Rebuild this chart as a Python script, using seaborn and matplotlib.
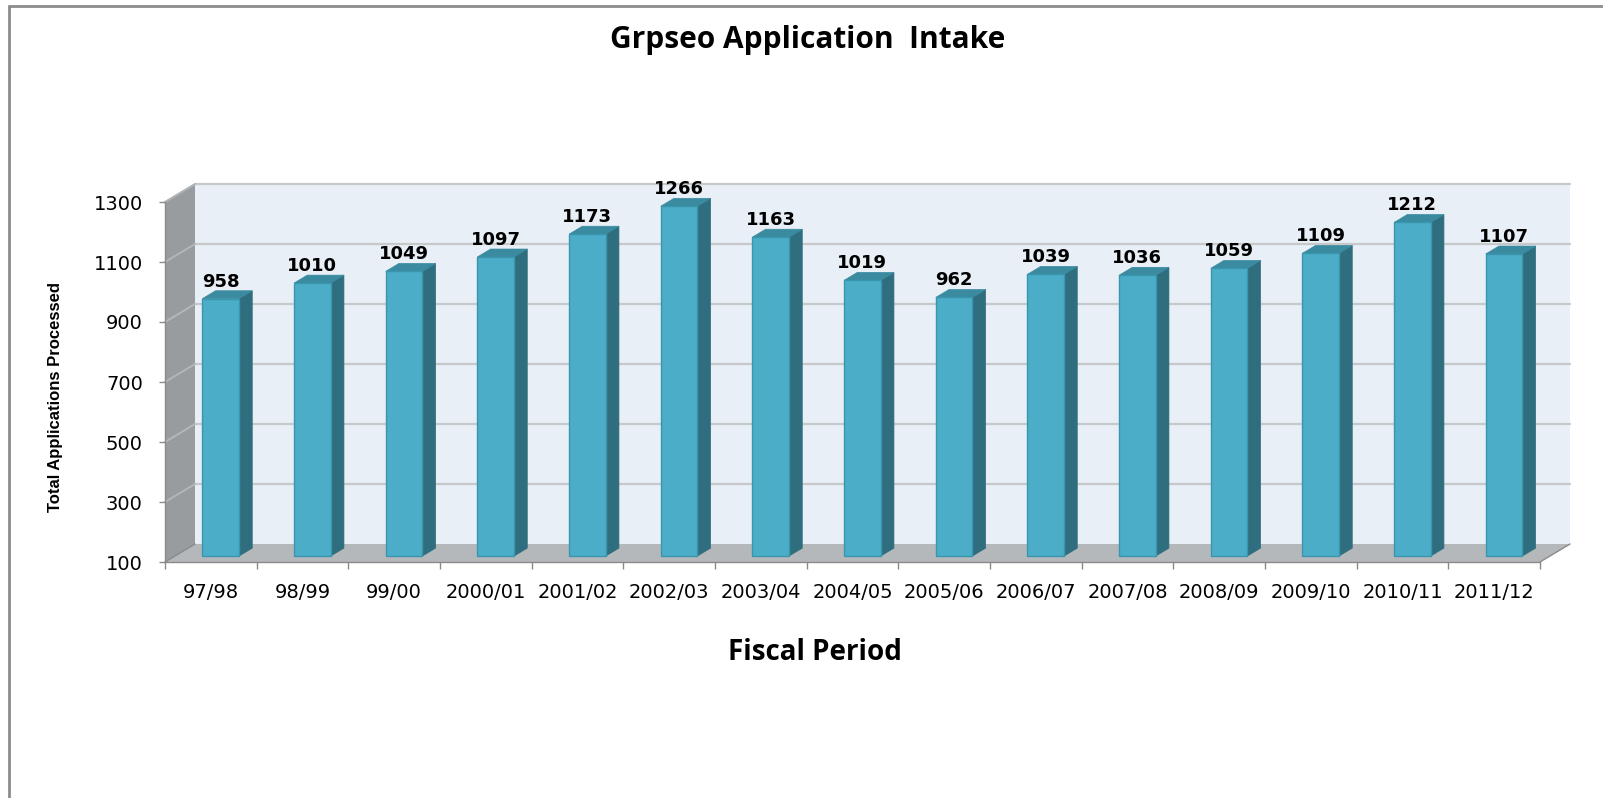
import numpy as np
import matplotlib
matplotlib.use("Agg")
import matplotlib.pyplot as plt
import matplotlib.transforms as mtransforms
from matplotlib.patches import Polygon
from matplotlib.lines import Line2D
import seaborn as sns

# ---- data ----
periods = ["97/98", "98/99", "99/00", "2000/01", "2001/02", "2002/03", "2003/04",
           "2004/05", "2005/06", "2006/07", "2007/08", "2008/09", "2009/10",
           "2010/11", "2011/12"]
applications = [958, 1010, 1049, 1097, 1173, 1266, 1163, 1019, 962, 1039,
                1036, 1059, 1109, 1212, 1107]
y_ticks = [100, 300, 500, 700, 900, 1100, 1300]

title = "Grpseo Application  Intake"
x_label = "Fiscal Period"
y_label = "Total Applications Processed"

# ---- style ----
sns.set_theme(style="white")
plt.rcParams["font.family"] = ["DejaVu Sans"]
plt.rcParams["text.color"] = "black"

W, H, DPI = 1603, 798, 100
fig = plt.figure(figsize=(W / DPI, H / DPI), dpi=DPI)
fig.patch.set_facecolor("white")

# front plane of the 3D box (pixels from top-left)
left_px, right_px, top_px, bot_px = 165, 1540, 202, 562
ax = fig.add_axes([left_px / W, 1 - bot_px / H, (right_px - left_px) / W, (bot_px - top_px) / H])

FRONT = "#4badc8"
SIDE = "#2f6e7e"
TOP = "#3a8aa0"
EDGE = "#3a95ae"

sns.barplot(x=periods, y=applications, ax=ax, width=0.4, color=FRONT,
            saturation=1, edgecolor=EDGE, linewidth=1.0, zorder=3)

ymin, ymax = y_ticks[0], y_ticks[-1]
ax.set_xlim(-0.5, len(periods) - 0.5)
ax.set_ylim(ymin, ymax)
ax.patch.set_visible(False)

DX, DY = 30, 18          # full depth offset (display px, y up)
F1, F2 = 0.33, 0.77      # bar front/back depth fractions


def P(xd, yd, f):
    px, py = ax.transData.transform((xd, yd))
    return (px + f * DX, py + f * DY)


ident = mtransforms.IdentityTransform()
xl, xr = ax.get_xlim()


def add_poly(pts, fc, z, ec="none", lw=0.0):
    poly = Polygon(pts, closed=True, transform=ident, facecolor=fc, edgecolor=ec,
                   lw=lw, zorder=z, clip_on=False)
    ax.add_artist(poly)
    return poly


def add_line(a, b, color, lw, z):
    ln = Line2D([a[0], b[0]], [a[1], b[1]], transform=ident, color=color, lw=lw,
                zorder=z, clip_on=False)
    ax.add_artist(ln)
    return ln


# back wall, left side wall, floor
add_poly([P(xl, ymin, 1), P(xr, ymin, 1), P(xr, ymax, 1), P(xl, ymax, 1)], "#e8eff6", 0.1)
add_poly([P(xl, ymin, 0), P(xl, ymax, 0), P(xl, ymax, 1), P(xl, ymin, 1)], "#989c9f", 0.2)
add_poly([P(xl, ymin, 0), P(xr, ymin, 0), P(xr, ymin, 1), P(xl, ymin, 1)], "#b5b8bb", 0.3)

# gridlines on back wall and side wall
for t in y_ticks[1:]:
    a, b = P(xl, t, 1), P(xr, t, 1)
    add_line(a, b, "#c6c8ca", 1.6, 0.4)
    c = P(xl, t, 0)
    add_line(c, a, "#b4b7b9", 1.4, 0.4)
# edge lines of floor
for xx in (xl, xr):
    add_line(P(xx, ymin, 0), P(xx, ymin, 1), "#8a8a8a", 1.0, 0.5)
add_line(P(xl, ymax, 0), P(xl, ymax, 1), "#b0b3b5", 1.0, 0.5)

# bars: move front faces to depth F1, add side and top faces
off1 = mtransforms.ScaledTranslation(F1 * DX / DPI, F1 * DY / DPI, fig.dpi_scale_trans)
lab_off = mtransforms.ScaledTranslation(F1 * DX / DPI, (F1 * DY + 17) / DPI, fig.dpi_scale_trans)
for p, val in zip(ax.patches[:len(applications)], applications):
    x0, w, h = p.get_x(), p.get_width(), p.get_height()
    p.set_y(ymin)
    p.set_height(h - ymin)
    p.set_transform(ax.transData + off1)
    p.set_clip_on(False)
    add_poly([P(x0 + w, ymin, F1), P(x0 + w, h, F1), P(x0 + w, h, F2), P(x0 + w, ymin, F2)],
             SIDE, 2.9, ec=SIDE, lw=0.5)
    add_poly([P(x0, h, F1), P(x0 + w, h, F1), P(x0 + w, h, F2), P(x0, h, F2)],
             TOP, 2.9, ec=TOP, lw=0.5)
    ax.text(x0 + w / 2, h, f"{val}", transform=ax.transData + lab_off,
            ha="center", va="center", fontsize=13, fontweight="bold", color="black",
            zorder=5, clip_on=False)

# axes / ticks
for s in ("top", "right"):
    ax.spines[s].set_visible(False)
for s in ("left", "bottom"):
    ax.spines[s].set_visible(True)
    ax.spines[s].set_color("#8a8a8a")
    ax.spines[s].set_linewidth(1.0)
    ax.spines[s].set_zorder(1)

ax.set_yticks(y_ticks)
ax.set_yticklabels([str(t) for t in y_ticks])
ax.tick_params(axis="y", which="major", left=True, length=4, width=1, color="#8a8a8a",
               pad=12, labelsize=14, labelcolor="black")
ax.set_xticks(range(len(periods)))
ax.set_xticklabels(periods)
ax.set_xticks(np.arange(-0.5, len(periods) + 0.5, 1.0), minor=True)
ax.tick_params(axis="x", which="major", bottom=False, length=0, pad=15,
               labelsize=14, labelcolor="black")
ax.tick_params(axis="x", which="minor", bottom=True, length=5, width=1, color="#8a8a8a")
ax.set_xlabel("")
ax.set_ylabel("")
ax.grid(False)

# texts
fig.text(808 / W, 1 - 40 / H, title, ha="center", va="center", color="black",
         fontsize=21.5, fontweight="bold", family=["Open Sans", "DejaVu Sans"])
fig.text(815 / W, 1 - 652 / H, x_label, ha="center", va="center", color="black",
         fontsize=20, fontweight="bold", family=["Open Sans", "DejaVu Sans"])
fig.text(56 / W, 1 - 397 / H, y_label, ha="center", va="center", rotation=90,
         color="black", fontsize=12, fontweight="bold",
         family=["Liberation Sans", "DejaVu Sans"])

# outer frame (top and left edges)
fig.lines.append(Line2D([9, W], [H - 6, H - 6], transform=ident, color="#8c8c8c", lw=2))
fig.lines.append(Line2D([9, 9], [0, H - 6], transform=ident, color="#8c8c8c", lw=2))

fig.savefig("out.png", dpi=DPI)
